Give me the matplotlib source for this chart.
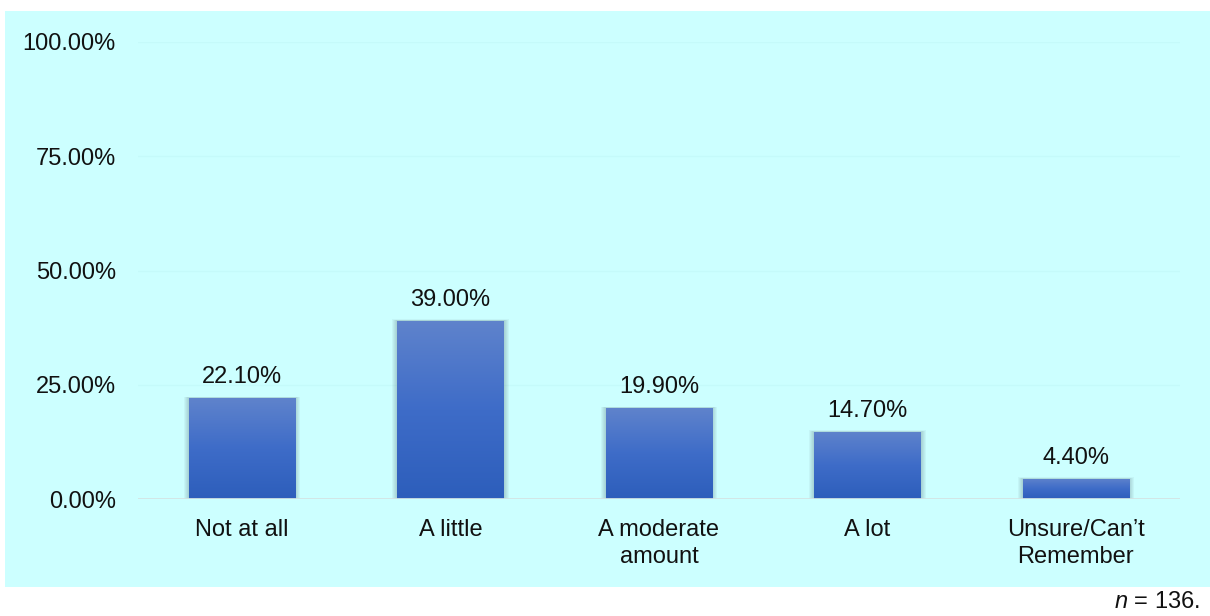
import numpy as np
import matplotlib
matplotlib.use("Agg")
import matplotlib.pyplot as plt
from matplotlib.patches import Rectangle
from matplotlib.colors import LinearSegmentedColormap

plt.rcParams['font.family'] = ['Liberation Sans', 'DejaVu Sans']
plt.rcParams['mathtext.fontset'] = 'custom'
plt.rcParams['mathtext.rm'] = 'Liberation Sans'
plt.rcParams['mathtext.it'] = 'Liberation Sans:italic'

categories = ["Not at all", "A little", "A moderate\namount", "A lot", "Unsure/Can\u2019t\nRemember"]
values = [22.10, 39.00, 19.90, 14.70, 4.40]
yticks = [0, 25, 50, 75, 100]
ytick_labels = ["0.00%", "25.00%", "50.00%", "75.00%", "100.00%"]
sample_note = "$n$ = 136."

W, H = 1210, 616
FS = 17
fig = plt.figure(figsize=(W / 100, H / 100), dpi=100)
fig.patch.set_facecolor("white")

# light cyan panel behind the chart
fig.patches.append(Rectangle((5 / W, (H - 587) / H), (1210 - 5) / W, (587 - 11) / H,
                             transform=fig.transFigure, facecolor="#CCFFFF",
                             edgecolor="none", zorder=-10))

left, right = 138 / W, 1180 / W
bottom, top = (H - 499) / H, (H - 42) / H
ax = fig.add_axes([left, bottom, right - left, top - bottom])
ax.set_zorder(1)
ax.set_facecolor("none")

x = np.arange(len(categories))

# very faint horizontal gridlines
for t in yticks[1:]:
    ax.axhline(t, color="#C5FAFA", lw=1, zorder=0.5)

width = 0.51
bars = ax.bar(x, values, width=width, color="none", edgecolor="none", zorder=3)

# soft shadow around each bar
px_x = 1.0 / 208.4
px_y = 100.0 / 457.0
for b in bars:
    bx, bw, bh = b.get_x(), b.get_width(), b.get_height()
    for k in range(1, 6):
        ax.add_patch(Rectangle((bx - k * px_x, -0.3), bw + 2 * k * px_x,
                               bh + 0.3 + k * px_y * 0.3,
                               facecolor="#405A60", edgecolor="none", alpha=0.055,
                               zorder=2))

# vertical gradient fill for each bar
cmap = LinearSegmentedColormap.from_list("barfill", ["#2D5EBB", "#3E6CC8", "#5F83CC"])
grad = np.linspace(0, 1, 256).reshape(-1, 1)
for b in bars:
    bx, bw, bh = b.get_x(), b.get_width(), b.get_height()
    im = ax.imshow(grad, cmap=cmap, origin="lower", aspect="auto",
                   extent=(bx, bx + bw, 0, bh), zorder=3.5)
    im.set_clip_path(b)

ax.set_xlim(-0.5, len(categories) - 0.5)
ax.set_ylim(0, 100)

# baseline
ax.axhline(0, color="#D3E3E3", lw=2, zorder=4)

ax.bar_label(bars, labels=[f"{v:.2f}%" for v in values], padding=7,
             fontsize=FS, color="#111111")

ax.set_xticks(x)
ax.set_xticklabels(categories, fontsize=FS, color="#111111", linespacing=1.3)
ax.set_yticks(yticks)
ax.set_yticklabels(ytick_labels, fontsize=FS, color="#111111")
ax.tick_params(axis="x", length=0, pad=14.5)
ax.tick_params(axis="y", length=0, pad=16)
for s in ax.spines.values():
    s.set_visible(False)

fig.text(1200 / W, (H - 602) / H, sample_note, ha="right", va="center",
         fontsize=FS, color="#111111")

fig.savefig("out.png", dpi=100)
